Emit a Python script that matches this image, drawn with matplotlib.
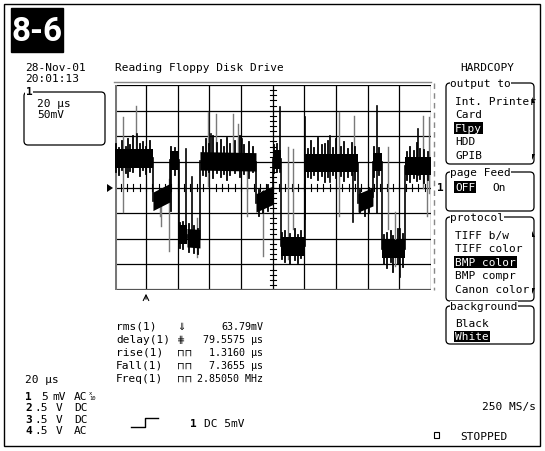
import matplotlib.pyplot as plt
from matplotlib.patches import FancyBboxPatch, Rectangle, Polygon

plt.rcParams["font.family"] = "DejaVu Sans Mono"

# ---- datos de la pantalla ----
# escalas: 20 us/div, 50 mV/div
t_span_us = 200
v_span_mv = 200

# niveles de la traza por tramos (inicio, fin, nivel inicial, nivel final)
seg_start_us = [0, 24.3, 35.1, 40.8, 45.8, 54.0, 89.4, 100.2, 105.2, 120.4, 153.9, 163.3, 169.0, 183.6]
seg_end_us = [24.3, 35.1, 40.8, 45.8, 54.0, 89.4, 100.2, 105.2, 120.4, 153.9, 163.3, 169.0, 183.6, 200]
seg_lvl_a_mv = [57, -27, 53, -92, -98, 52, -30, 55, -115, 48, -30, 50, -120, 42]
seg_lvl_b_mv = [57, -10, 53, -92, -100, 50, -15, 55, -115, 48, -18, 50, -120, 42]
band_mv = 18

# picos (glitches) de la traza
spike_t_us = [5.4, 13.6, 14.5, 28.8, 29.4, 34.4, 45.2, 49.0, 52.1, 59.1, 61.0, 64.1,
              74.9, 78.1, 80.6, 83.8, 93.8, 104.6, 109.6, 112.8, 120.4, 136.2, 141.9,
              150.8, 151.5, 165.9, 172.8, 177.3, 180.4, 194.9, 199.0, 197.5, 191.8]
spike_hi_mv = [137, 159, 105, -17, -10, 16, 75, 20, -60, 147, 104, 143,
               143, 124, 95, 46, -5, 157, 79, 75, 137, 100, 147,
               30, 139, 159, 79, -48, -80, 139, 137, 30, 114]
spike_lo_mv = [-48, 52, 60, -55, -75, -124, -100, -100, -135, 3, 40, 36,
               40, 40, 40, -55, -134, 30, -140, -80, -61, 10, -55,
               -67, 30, -50, -80, -153, -175, 0, -10, -55, 25]
spike_dark = [0, 0, 1, 0, 0, 0, 1, 1, 0, 0, 1, 0,
              0, 0, 1, 0, 0, 1, 0, 0, 1, 1, 0,
              1, 0, 1, 0, 0, 1, 0, 0, 0, 1]

# ruido corto sobre la banda de la traza
fuzz_t_us = [1, 3, 4.5, 7, 8.5, 10, 12, 16, 18, 20, 22.5,
             36, 38.5, 41.5, 43, 47, 50, 53,
             56, 58, 60, 62.5, 65, 67, 69, 71, 73, 76, 79, 82, 85, 87.5,
             91, 94, 97, 101, 103,
             106, 108, 111, 114, 116, 118,
             122, 124, 126, 128.5, 131, 133, 135, 138, 140, 143, 145, 147.5, 150, 152,
             155, 158, 161, 164, 167,
             170, 172, 174.5, 176, 179, 182,
             185, 187, 189, 191, 193, 195.5, 198]
fuzz_hi_mv = [85, 78, 90, 80, 95, 82, 100, 84, 88, 80, 90,
              80, 78, -70, -68, -72, -75, -80,
              80, 95, 84, 100, 86, 92, 80, 96, 84, 90, 100, 82, 88, 80,
              -5, -8, 5, 82, 85,
              -88, -85, -90, -80, -92, -85,
              75, 90, 78, 96, 82, 85, 90, 78, 94, 80, 88, 76, 86, 80,
              -5, -10, 0, 80, 78,
              -92, -88, -84, -95, -80, -90,
              70, 80, 72, 86, 76, 74, 70]
fuzz_lo_mv = [30, 25, 35, 28, 20, 32, 30, 22, 35, 26, 30,
              -45, 25, -118, -120, -125, -128, -130,
              25, 22, 30, 18, 28, 20, 26, 15, 24, 28, 20, 26, 18, 30,
              -55, -50, -45, 28, 30,
              -140, -145, -150, -142, -148, -138,
              20, 18, 25, 15, 22, 10, 20, 24, 18, 22, 12, 20, 25, 15,
              -50, -55, -48, 20, 25,
              -150, -158, -145, -165, -150, -155,
              15, 10, 18, 12, 16, 8, 14]

# medidas
meas_names = ["rms(1)", "delay(1)", "rise(1)", "Fall(1)", "Freq(1)"]
meas_icons = ["\u21d3", "\u22d5", "\u2293\u2293", "\u2293\u2293", "\u2293\u2293"]
meas_values = ["63.79mV", "79.5575 \u00b5s", "1.3160 \u00b5s", "7.3655 \u00b5s", "2.85050 MHz"]

# canales
ch_num = ["1", "2", "3", "4"]
ch_scale = ["5", ".5", ".5", ".5"]
ch_unit = ["mV", "V", "V", "V"]
ch_coupling = ["AC", "DC", "DC", "AC"]

# menu lateral
menu_output = ["Int. Printer", "Card", "Flpy", "HDD", "GPIB"]
menu_protocol = ["TIFF b/w", "TIFF color", "BMP color", "BMP compr", "Canon color"]
menu_background = ["Black", "White"]

fig = plt.figure(figsize=(5.45, 4.52), dpi=100)

# capa de fondo en pixeles
bg = fig.add_axes([0, 0, 1, 1])
bg.set_xlim(0, 545)
bg.set_ylim(452, 0)
bg.axis("off")

fs = 8
bg.add_patch(Rectangle((4, 5), 536, 442, fill=False, lw=1, ec="black"))
bg.add_patch(Rectangle((11, 9), 52, 44, fc="black", ec="black", zorder=3))
bg.text(37, 32, "8-6", color="white", fontsize=24, fontweight="bold",
        family=["Roboto", "DejaVu Sans"], ha="center", va="center", zorder=4)

bg.text(25, 68, "28-Nov-01", fontsize=fs, va="center")
bg.text(25, 79, "20:01:13", fontsize=fs, va="center")
bg.text(115, 68, "Reading Floppy Disk Drive", fontsize=fs, va="center")
bg.text(487, 68, "HARDCOPY", fontsize=fs, va="center", ha="center")

# cuadro del canal 1
bg.add_patch(FancyBboxPatch((24, 93), 81, 53, boxstyle="round,pad=0,rounding_size=4",
                            fill=False, lw=0.9, ec="black"))
bg.text(29, 92, "1", fontsize=fs, fontweight="bold", va="center", ha="center",
        bbox=dict(fc="white", ec="none", pad=0.5))
bg.text(37, 104, "20 \u00b5s", fontsize=fs, va="center")
bg.text(37, 115, "50mV", fontsize=fs, va="center")


def menu_box(y0, y1, title, items, sel, dy=13.5, first=None):
    bg.add_patch(FancyBboxPatch((446, y0), 88, y1 - y0, boxstyle="round,pad=0,rounding_size=4",
                                fill=False, lw=0.9, ec="black"))
    bg.text(450, y0, title, fontsize=fs, va="center",
            bbox=dict(fc="white", ec="none", pad=0.3))
    yy = first if first is not None else y0 + 17
    for it in items:
        if it == sel:
            bg.text(455, yy, it, fontsize=fs, va="center", color="white",
                    bbox=dict(fc="black", ec="none", pad=0.6))
        else:
            bg.text(455, yy, it, fontsize=fs, va="center")
        yy += dy


menu_box(84, 165, "output to", menu_output, "Flpy", first=102)
menu_box(173, 212, "page Feed", [], None)
bg.text(455, 188, "OFF", fontsize=fs, va="center", color="white",
        bbox=dict(fc="black", ec="none", pad=0.6))
bg.text(492, 188, "On", fontsize=fs, va="center")
menu_box(218, 302, "protocol", menu_protocol, "BMP color", first=236)
menu_box(307, 345, "background", menu_background, "White", first=324)
for yy in [101, 235]:
    bg.add_patch(Polygon([[532, yy - 3], [535, yy + 3], [532, yy + 3]], fc="black", ec="none"))
for yy in [158, 292]:
    bg.add_patch(Polygon([[532, yy - 3], [535, yy - 3], [532, yy + 3]], fc="black", ec="none"))

# medidas
for i, (n, ic, v) in enumerate(zip(meas_names, meas_icons, meas_values)):
    yy = 327 + i * 13
    bg.text(116, yy, n, fontsize=fs, va="center")
    bg.text(177, yy, ic, fontsize=7, va="center", family=["DejaVu Sans", "DejaVu Sans Mono"])
    bg.text(263, yy, v, fontsize=7.2, va="center", ha="right")

bg.text(25, 380, "20 \u00b5s", fontsize=fs, va="center")
for i in range(4):
    yy = 397 + i * 11.3
    bg.text(25, yy, ch_num[i], fontsize=fs, va="center", fontweight="bold")
    bg.text(48, yy, ch_scale[i], fontsize=fs, va="center", ha="right")
    bg.text(59, yy, ch_unit[i], fontsize=fs, va="center", ha="center")
    bg.text(74, yy, ch_coupling[i], fontsize=fs, va="center")
bg.text(89, 396, "x\n10", fontsize=4, va="center", ha="left", linespacing=0.8)

# simbolo de disparo
bg.plot([131, 145, 145, 158], [428, 428, 419, 419], color="black", lw=1)
bg.text(190, 424, "1", fontsize=fs, va="center", fontweight="bold")
bg.text(204, 424, "DC 5mV", fontsize=fs, va="center")

bg.text(482, 407, "250 MS/s", fontsize=fs, va="center")
bg.add_patch(Rectangle((434, 433), 5, 6, fill=False, lw=0.8, ec="black"))
bg.text(460, 437, "STOPPED", fontsize=fs, va="center")

# marcas alrededor de la reticula
bg.plot([114, 431], [83, 83], color="#888888", lw=1)
bg.plot([434, 434], [84, 291], color="#888888", lw=1, ls=(0, (4, 3)))
bg.add_patch(Polygon([[107, 185], [113, 189], [107, 193]], fc="black", ec="none"))
bg.text(437, 188, "1", fontsize=fs, va="center", fontweight="bold")
bg.annotate("", xy=(146, 292), xytext=(146, 303),
            arrowprops=dict(arrowstyle="->", lw=0.8, color="black"))

# ---- reticula del osciloscopio ----
ax = fig.add_axes([114.5 / 545, 1 - 291 / 452, 316.5 / 545, 205 / 452])
ax.set_xlim(0, t_span_us)
ax.set_ylim(-v_span_mv, v_span_mv)
ax.axis("off")
ax.patch.set_alpha(0)

for t in range(20, t_span_us, 20):
    ax.axvline(t, color="black", lw=0.9, zorder=1)
for v in range(-150, v_span_mv, 50):
    ax.axhline(v, color="black", lw=0.9, zorder=1)
ax.axvline(t_span_us, color="black", lw=0.9)
ax.axhline(v_span_mv, color="black", lw=0.9)
ax.axhline(-v_span_mv, color="#555555", lw=1.6)
ax.axvline(0, color="#777777", lw=2.2)
for t in range(0, t_span_us, 4):
    ax.plot([t, t], [-6, 6], color="black", lw=0.8, zorder=1)
for v in range(-v_span_mv, v_span_mv, 10):
    ax.plot([98, 102], [v, v], color="black", lw=0.8, zorder=1)

# traza
for i in range(len(seg_start_us)):
    xs = [seg_start_us[i], seg_end_us[i]]
    lo = [seg_lvl_a_mv[i] - band_mv, seg_lvl_b_mv[i] - band_mv]
    hi = [seg_lvl_a_mv[i] + band_mv, seg_lvl_b_mv[i] + band_mv]
    ax.fill_between(xs, lo, hi, color="black", lw=0, zorder=3)
    if i > 0:
        ax.plot([seg_start_us[i], seg_start_us[i]], [seg_lvl_b_mv[i - 1], seg_lvl_a_mv[i]],
                color="black", lw=1.2, zorder=3)

for t, h, l in zip(fuzz_t_us, fuzz_hi_mv, fuzz_lo_mv):
    ax.plot([t, t], [l, h], color="black", lw=1.3, zorder=3)

for t, h, l, d in zip(spike_t_us, spike_hi_mv, spike_lo_mv, spike_dark):
    ax.plot([t, t], [l, h], color="black" if d else "#7a7a7a", lw=1.2 if d else 1.0, zorder=2)

fig.savefig("out.png", dpi=100)
